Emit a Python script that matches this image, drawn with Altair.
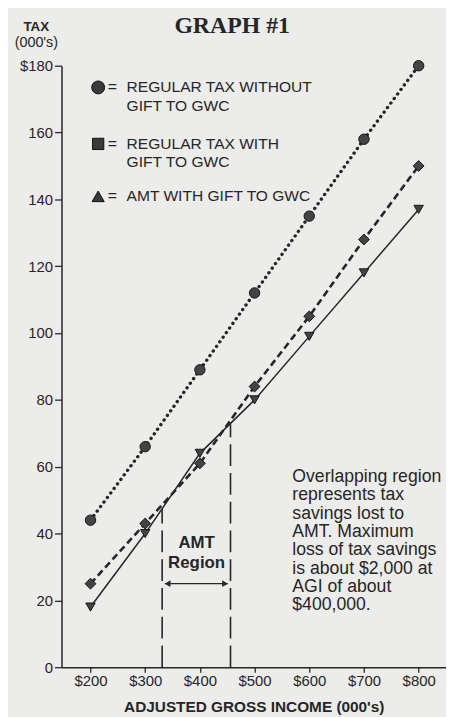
import altair as alt
import pandas as pd

# ---- data ----
income = [200, 300, 400, 500, 600, 700, 800]
tax_without_gift = [44, 66, 89, 112, 135, 158, 180]
tax_with_gift = [25, 43, 61, 84, 105, 128, 150]
amt_with_gift = [18, 40, 64, 80, 99, 118, 137]

y_ticks = [0, 20, 40, 60, 80, 100, 120, 140, 160, 180]
x_ticks = [200, 300, 400, 500, 600, 700, 800]

amt_bounds = [331, 456]
amt_bound_tops = [47.4, 72.7]
arrow_ends = [336, 451]
arrow_level = 25

legend_lines = ["REGULAR TAX WITHOUT", "GIFT TO GWC", "REGULAR TAX WITH", "GIFT TO GWC",
                "AMT WITH GIFT TO GWC"]
legend_line_y = [173.5, 167.8, 156.6, 151.2, 140.9]
legend_symbol_y = [173.5, 156.6, 140.9]
legend_symbol_x = 214
legend_eq_x = 240
legend_text_x = 266

note_lines = ["Overlapping region", "represents tax", "savings lost to", "AMT. Maximum",
              "loss of tax savings", "is about $2,000 at", "AGI of about", "$400,000."]
note_x = 569
note_y = 59.6

region_words = ["AMT", "Region"]
region_x = 394
region_y = [37.1, 31.1]

title_text = "GRAPH #1"
title_x = 459
title_y = 189.8

unit_text = "(000's)"
unit_x = 101
unit_y = 185.6

ink = "#262626"
paper = "#ececea"
FONT = "Liberation Sans"

xs = alt.Scale(domain=[147, 850], nice=False, zero=False)
ys = alt.Scale(domain=[0, 180], nice=False, zero=False)

x_axis = alt.Axis(
    values=x_ticks, labelExpr="'$' + datum.label", tickSize=5, tickColor=ink, tickWidth=1.3,
    labelPadding=1, labelFont=FONT, labelFontSize=15, labelColor=ink, labelFlush=False,
    labelOverlap=False, domainColor=ink, domainWidth=1.5, grid=False,
    title="ADJUSTED GROSS INCOME (000's)", titleFont=FONT, titleFontSize=15.5,
    titleFontWeight="bold", titleColor=ink, titleY=45, titleBaseline="alphabetic",
)
y_axis = alt.Axis(
    values=y_ticks, labelExpr="datum.value == 180 ? '$180' : datum.label",
    tickSize=7, tickColor=ink, tickWidth=1.3, labelPadding=2,
    labelFont=FONT, labelFontSize=15, labelColor=ink, labelFlush=False, labelOverlap=False,
    domainColor=ink, domainWidth=1.5, grid=False,
    title="TAX", titleAngle=0, titleX=-26, titleY=-36, titleAlign="center",
    titleBaseline="alphabetic", titleFont=FONT, titleFontSize=13.5, titleFontWeight="bold",
    titleColor=ink,
)


def X(field):
    return alt.X(field, type="quantitative", scale=xs, axis=x_axis)


def Y(field):
    return alt.Y(field, type="quantitative", scale=ys, axis=y_axis)


df_without = pd.DataFrame({"x": income, "y": tax_without_gift})
df_with = pd.DataFrame({"x": income, "y": tax_with_gift})
df_amt = pd.DataFrame({"x": income, "y": amt_with_gift})

line_without = alt.Chart(df_without).mark_line(
    color=ink, strokeWidth=3.4, strokeDash=[0.1, 5.6], strokeCap="round"
).encode(x=X("x"), y=Y("y"))
line_with = alt.Chart(df_with).mark_line(
    color=ink, strokeWidth=2.6, strokeDash=[7, 4]
).encode(x=X("x"), y=Y("y"))
line_amt = alt.Chart(df_amt).mark_line(color=ink, strokeWidth=1.5).encode(
    x=X("x"), y=Y("y"))

pt_style = dict(filled=True, fill="#444444", stroke="#151515", strokeWidth=1, opacity=1)
pts_without = alt.Chart(df_without).mark_point(shape="circle", size=110, **pt_style).encode(
    x=X("x"), y=Y("y"))
pts_with = alt.Chart(df_with).mark_point(shape="diamond", size=120, **pt_style).encode(
    x=X("x"), y=Y("y"))
pts_amt = alt.Chart(df_amt).mark_point(shape="triangle-down", size=90, **pt_style).encode(
    x=X("x"), y=Y("y"))

# AMT region bounds
df_b = pd.DataFrame({"x": amt_bounds, "y": [0, 0], "y2": amt_bound_tops})
bounds = alt.Chart(df_b).mark_rule(color=ink, strokeWidth=1.6, strokeDash=[22, 7]).encode(
    x=X("x"), y=Y("y"), y2="y2")

df_arrow = pd.DataFrame({"x": [arrow_ends[0]], "x2": [arrow_ends[1]], "y": [arrow_level]})
arrow_line = alt.Chart(df_arrow).mark_rule(color=ink, strokeWidth=1.3).encode(
    x=X("x"), x2="x2", y=Y("y"))
arrow_l = alt.Chart(pd.DataFrame({"x": [arrow_ends[0] + 5], "y": [arrow_level]})).mark_point(
    shape="triangle-left", size=45, filled=True, color=ink, opacity=1).encode(x=X("x"), y=Y("y"))
arrow_r = alt.Chart(pd.DataFrame({"x": [arrow_ends[1] - 5], "y": [arrow_level]})).mark_point(
    shape="triangle-right", size=45, filled=True, color=ink, opacity=1).encode(x=X("x"), y=Y("y"))

df_region = pd.DataFrame({"x": [region_x] * 2, "y": region_y, "t": region_words})
region_text = alt.Chart(df_region).mark_text(
    font=FONT, fontSize=17, fontWeight="bold", color=ink, align="center", baseline="middle"
).encode(x=X("x"), y=Y("y"), text="t:N")

df_note = pd.DataFrame({"x": [note_x], "y": [note_y], "t": ["\n".join(note_lines)]})
note_text = alt.Chart(df_note).mark_text(
    font=FONT, fontSize=17.8, color=ink, align="left", baseline="top",
    lineBreak="\n", lineHeight=18.5
).encode(x=X("x"), y=Y("y"), text="t:N")

# legend drawn inside the plot
df_leg_txt = pd.DataFrame({"x": [legend_text_x] * len(legend_lines), "y": legend_line_y,
                           "t": legend_lines})
leg_text = alt.Chart(df_leg_txt).mark_text(
    font=FONT, fontSize=15.7, color=ink, align="left", baseline="middle"
).encode(x=X("x"), y=Y("y"), text="t:N")
df_leg_eq = pd.DataFrame({"x": [legend_eq_x] * 3, "y": legend_symbol_y, "t": ["="] * 3})
leg_eq = alt.Chart(df_leg_eq).mark_text(
    font=FONT, fontSize=16, color=ink, align="center", baseline="middle"
).encode(x=X("x"), y=Y("y"), text="t:N")
leg_style = dict(filled=True, fill="#3a3a3a", stroke="#111111", strokeWidth=1, opacity=1)
leg_c = alt.Chart(pd.DataFrame({"x": [legend_symbol_x], "y": [legend_symbol_y[0]]})).mark_point(
    shape="circle", size=170, **leg_style).encode(x=X("x"), y=Y("y"))
leg_s = alt.Chart(pd.DataFrame({"x": [legend_symbol_x], "y": [legend_symbol_y[1]]})).mark_point(
    shape="square", size=130, **leg_style).encode(x=X("x"), y=Y("y"))
leg_t = alt.Chart(pd.DataFrame({"x": [legend_symbol_x], "y": [legend_symbol_y[2]]})).mark_point(
    shape="triangle-up", size=150, **leg_style).encode(x=X("x"), y=Y("y"))

df_title = pd.DataFrame({"x": [title_x], "y": [title_y], "t": [title_text]})
title_mark = alt.Chart(df_title).mark_text(
    font="Liberation Serif", fontSize=24, fontWeight="bold", color=ink, align="center",
    baseline="alphabetic"
).encode(x=X("x"), y=Y("y"), text="t:N")

df_unit = pd.DataFrame({"x": [unit_x], "y": [unit_y], "t": [unit_text]})
unit_mark = alt.Chart(df_unit).mark_text(
    font=FONT, fontSize=14.5, color=ink, align="center", baseline="alphabetic"
).encode(x=X("x"), y=Y("y"), text="t:N")

chart = alt.layer(
    line_without, line_with, line_amt, bounds, arrow_line, arrow_l, arrow_r,
    pts_without, pts_with, pts_amt, region_text, note_text, leg_text, leg_eq,
    leg_c, leg_s, leg_t, title_mark, unit_mark,
).properties(
    width=388, height=607,
    autosize=alt.AutoSizeParams(type="none"),
    padding={"left": 54, "top": 55, "right": 0, "bottom": 47},
    background=paper,
).configure_view(stroke=None)

chart.save("out.html", embed_options={"renderer": "svg", "actions": False})
